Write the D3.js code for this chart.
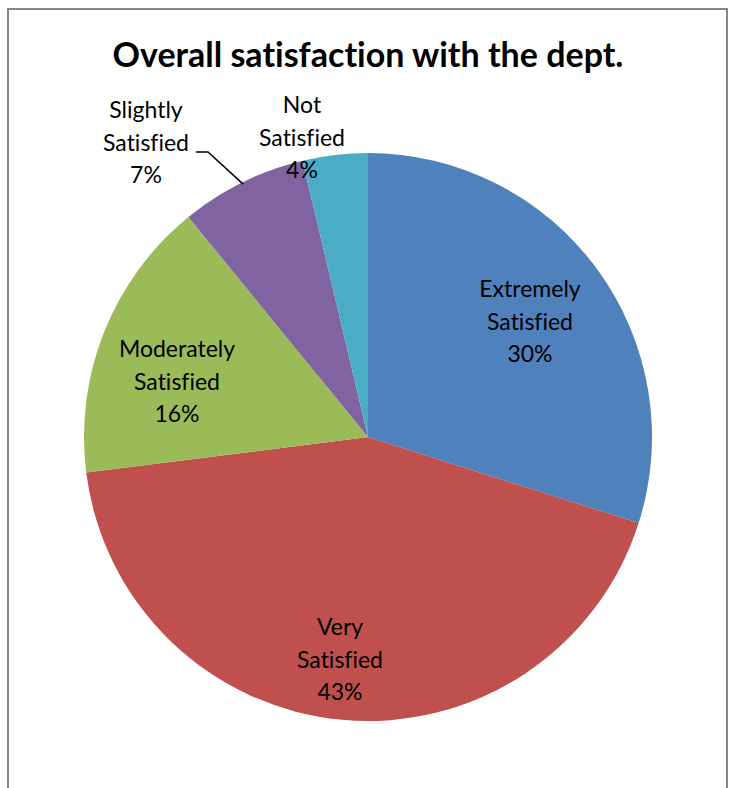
<!DOCTYPE html>
<html><head><meta charset="utf-8">
<script src="https://cdn.jsdelivr.net/npm/d3@7"></script>
<style>body{margin:0;background:#fff} text{font-variant-ligatures:none}</style>
</head><body>
<svg id="c" width="734" height="788"></svg>
<script>
const categories = ["Extremely Satisfied","Very Satisfied","Moderately Satisfied","Slightly Satisfied","Not Satisfied"];
const values = [29.9, 43.1, 16.1, 7.2, 3.7];
const pctLabels = ["30%","43%","16%","7%","4%"];
const colors = ["#4F81BD","#C0504D","#9BBB59","#8064A2","#4BACC6"];

const svg = d3.select("#c");
const font = "Lato, 'Open Sans', sans-serif";
// border
svg.append("path").attr("d","M8,790 V9 H727 V790").attr("fill","none").attr("stroke","#868686").attr("stroke-width",2);
svg.append("text").attr("x",368).attr("y",67).attr("text-anchor","middle")
  .attr("font-family",font).attr("font-weight","bold").attr("font-size",34).attr("fill","#000")
  .text("Overall satisfaction with the dept.");

const cx=368, cy=437, r=284;
const g = svg.append("g").attr("transform",`translate(${cx},${cy})`);
const pie = d3.pie().sort(null).value(d=>d)(values);
const arc = d3.arc().innerRadius(0).outerRadius(r);
g.selectAll("path.s").data(pie).enter().append("path").attr("class","s")
  .attr("d",arc).attr("fill",(d,i)=>colors[i]);

// label anchor offsets relative to center (first-line baseline)
const labelPos = [[162,-140],[-28,198],[-191,-80],[-222,-319],[-66,-324]];
const lines = categories.map((c,i)=>{const w=c.split(" "); return [w[0],w[1],pctLabels[i]];});
lines.forEach((ls,i)=>{
  const t = g.append("text").attr("text-anchor","middle").attr("font-family",font).attr("font-size",23).attr("fill","#000");
  ls.forEach((s,j)=>t.append("tspan").attr("x",labelPos[i][0]).attr("y",labelPos[i][1]+j*32.5).text(s));
});
// leader line for Slightly Satisfied
const mid = (pie[3].startAngle+pie[3].endAngle)/2;
const ex = Math.sin(mid)*(r-2), ey = -Math.cos(mid)*(r-2);
g.append("path").attr("d",`M${-172},${-285} H${-160} L${ex},${ey}`).attr("fill","none").attr("stroke","#000").attr("stroke-width",1.5);
</script>
</body></html>
